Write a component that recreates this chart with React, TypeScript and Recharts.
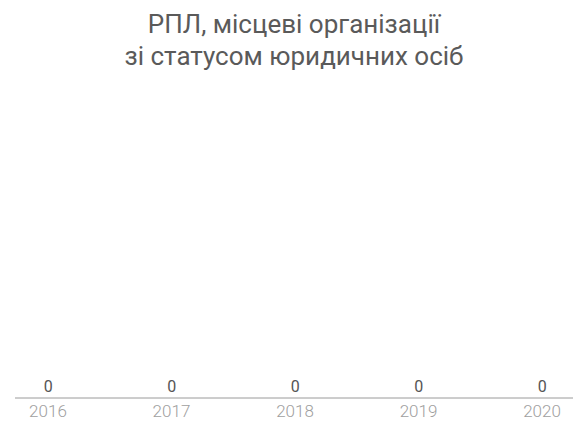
import React from "react";
import { BarChart, Bar, XAxis, YAxis, LabelList } from "recharts";

const titleLines = ["РПЛ, місцеві організації", "зі статусом юридичних осіб"];
const years = [2016, 2017, 2018, 2019, 2020];
const values = [0, 0, 0, 0, 0];

const data = years.map((y, i) => ({ year: y, value: values[i] }));

export default function App() {
  return (
    <div style={{ position: "absolute", left: 0, top: 0, width: 573, height: 427, background: "#fff" }}>
      <div
        style={{
          position: "absolute",
          left: 15,
          top: 8,
          width: 558,
          textAlign: "center",
          fontFamily: "Roboto",
          fontSize: 26,
          lineHeight: "32px",
          color: "#5a5a5a",
        }}
      >
        {titleLines.map((t) => (
          <div key={t}>{t}</div>
        ))}
      </div>
      <BarChart
        width={573}
        height={427}
        data={data}
        margin={{ top: 100, right: 0, left: 15, bottom: 0 }}
      >
        <XAxis
          dataKey="year"
          type="number"
          domain={[2015.733, 2020.251]}
          ticks={years}
          allowDataOverflow
          height={29}
          tickLine={false}
          tickSize={0}
          tickMargin={7}
          axisLine={{ stroke: "#9a9a9a", strokeWidth: 1 }}
          tick={{ fill: "#a0a0a0", fontSize: 17, fontFamily: "Roboto", fontWeight: 300 }}
          tickFormatter={(v) => String(v)}
        />
        <YAxis hide domain={[0, 1]} />
        <Bar dataKey="value" fill="none" barSize={60} minPointSize={1} isAnimationActive={false}>
          <LabelList
            dataKey="value"
            position="top"
            offset={5}
            style={{ fill: "#555", fontSize: 16, fontFamily: "Roboto" }}
          />
        </Bar>
      </BarChart>
    </div>
  );
}
